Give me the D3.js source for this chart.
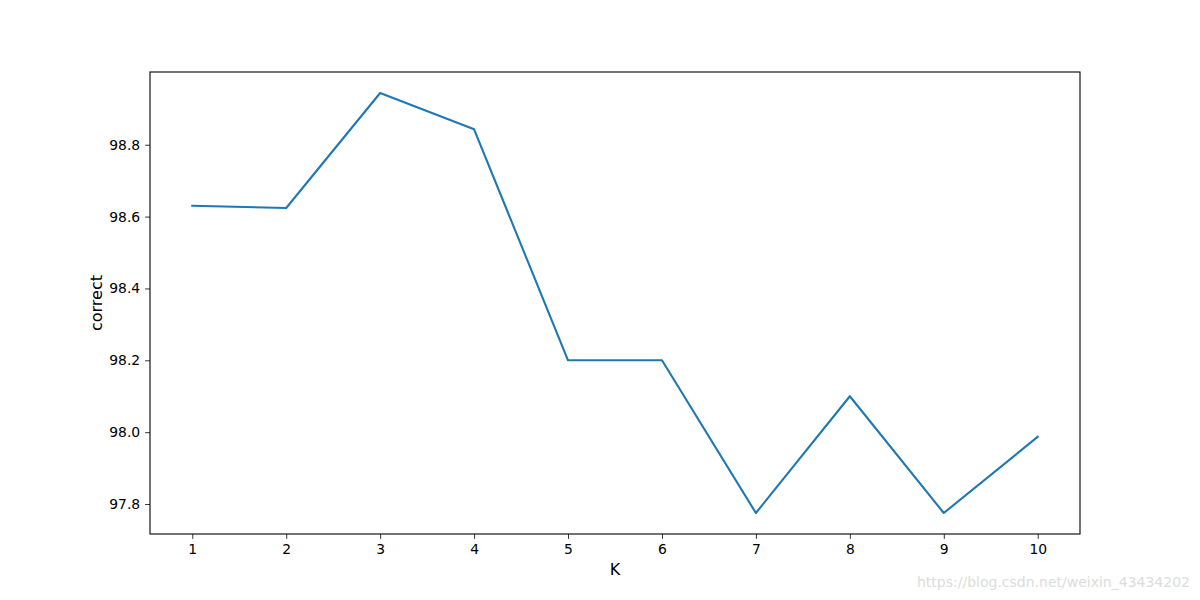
<!DOCTYPE html>
<html><head><meta charset="utf-8">
<script src="https://cdn.jsdelivr.net/npm/d3@7"></script>
<style>body{margin:0;background:#fff}svg{display:block}text{font-family:"DejaVu Sans",sans-serif}</style>
</head><body>
<script>
const kValues = [1,2,3,4,5,6,7,8,9,10];
const correct = [98.63, 98.624, 98.944, 98.843, 98.2, 98.2, 97.775, 98.1, 97.775, 97.987];
const yTicks = [97.8, 98.0, 98.2, 98.4, 98.6, 98.8];

const W=1200,H=600, L=150,R=1080,T=72,B=534;
const svg=d3.select("body").append("svg").attr("width",W).attr("height",H);
const ymin=d3.min(correct), ymax=d3.max(correct), m=(ymax-ymin)*0.05;
const x=d3.scaleLinear().domain([0.55,10.45]).range([L,R]);
const y=d3.scaleLinear().domain([ymin-m,ymax+m]).range([B,T]);

const xa=svg.append("g").attr("transform",`translate(0,${B})`)
  .call(d3.axisBottom(x).tickValues(kValues).tickFormat(d3.format("d")).tickSizeInner(4.9).tickSizeOuter(0).tickPadding(4.9));
const ya=svg.append("g").attr("transform",`translate(${L},0)`)
  .call(d3.axisLeft(y).tickValues(yTicks).tickFormat(d3.format(".1f")).tickSizeInner(4.9).tickSizeOuter(0).tickPadding(4.9));
[xa,ya].forEach(a=>{a.select(".domain").remove();a.selectAll("line").attr("stroke","#000").attr("stroke-width",0.8);
  a.selectAll("text").attr("font-size","13.9px").attr("fill","#000").attr("font-family","DejaVu Sans");});

svg.append("rect").attr("x",L).attr("y",T).attr("width",R-L).attr("height",B-T)
  .attr("fill","none").attr("stroke","#000").attr("stroke-width",1.1);

const line=d3.line().x((d,i)=>x(kValues[i])).y(d=>y(d));
svg.append("path").datum(correct).attr("d",line).attr("fill","none")
  .attr("stroke","#1f77b4").attr("stroke-width",2.1).attr("stroke-linejoin","round").attr("stroke-linecap","square");

svg.append("text").attr("x",(L+R)/2).attr("y",575).attr("text-anchor","middle").attr("font-size","16px").text("K");
svg.append("text").attr("transform",`translate(102,${(T+B)/2}) rotate(-90)`).attr("text-anchor","middle").attr("font-size","16px").text("correct");

svg.append("text").attr("x",1190).attr("y",587).attr("text-anchor","end").attr("font-size","14px")
  .attr("font-family","Liberation Sans, Arial, sans-serif").attr("fill","#dcdcdc").text("https://blog.csdn.net/weixin_43434202");
</script>
</body></html>
